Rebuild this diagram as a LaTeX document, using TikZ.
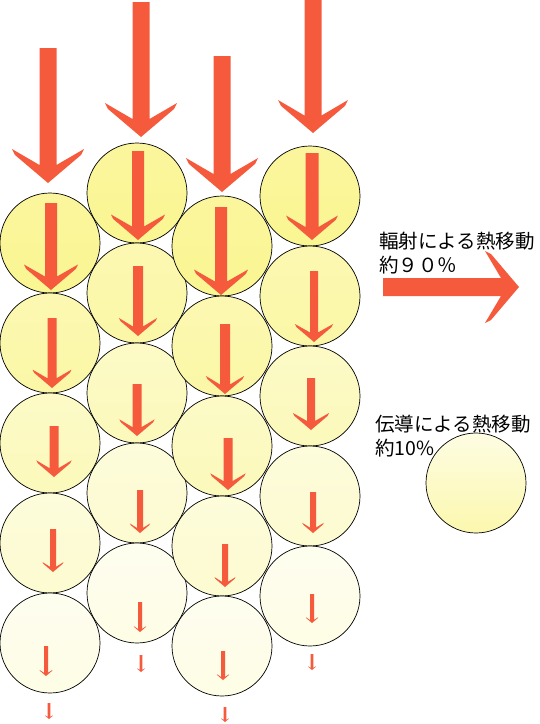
\documentclass[tikz,border=0pt]{standalone}
\usepackage{fontspec}
\newfontfamily\jpfont{Noto Sans CJK JP}
\definecolor{heatred}{RGB}{245,90,60}
\definecolor{ballyellow}{RGB}{250,245,140}
\tikzset{
	ball/.style={circle,draw=black,line width=0.7pt,minimum size=100pt,inner sep=0pt},
	heat/.style={fill=heatred},
	legend/.style={font=\jpfont\fontsize{19.5}{24}\selectfont,align=left,inner sep=0pt,anchor=west}
}
\begin{document}
\begin{tikzpicture}[x=1pt,y=-1pt,line join=round,line cap=round]
	\useasboundingbox (0,0) rectangle (540,724);
	% particles, column by column
	\foreach \c/\x/\y in {1/50/243,2/137/193,3/222/246,4/310/196}
	\foreach \r in {1,...,5}{
		\pgfmathtruncatemacro\hi{95-18*(\r-1)}
		\pgfmathtruncatemacro\lo{85-18*(\r-1)}
		\node[ball,top color=ballyellow!\lo!white,bottom color=ballyellow!\hi!white] (p\c\r) at (\x,{\y+100*(\r-1)}) {};
	}
	% heat flow arrows: x / shaft top / tip / size / half width
	\foreach \x/\ys/\yt/\s/\w in {48/48/183/1/8.5,51/203/290/0.75/6,52/318/388/0.54/4.5,54/426/477/0.49/4.5,53/529/572/0.29/3,46/646/676/0.18/2,49/703/719/0.11/1.3,
		141/2/137/1/8.5,138/151/240/0.75/6,138/266/336/0.53/5,137/384/436/0.49/4.5,140/490/533/0.28/3,140/602/632/0.17/2,141/655/672/0.11/1.3,
		222/56/192/1/8.5,221/207/295/0.75/6,225/324/394/0.53/5,228/438/490/0.49/4.5,225/544/587/0.29/3,223/651/680/0.17/2,225/707/722/0.11/1.3,
		313/0/133/0.97/8.5,312/153/240/0.72/6.5,314/271/342/0.53/4,311/378/430/0.5/4,313/492/533/0.3/3,312/594/623/0.17/2,312/654/670/0.11/1.3}
	\fill[heat] (\x-\w,\ys) -- (\x-\w,\yt-18*\s) -- (\x-36*\s,\yt-34*\s) -- (\x-33*\s,\yt-28*\s) -- (\x,\yt) -- (\x+33*\s,\yt-28*\s) -- (\x+36*\s,\yt-34*\s) -- (\x+\w,\yt-18*\s) -- (\x+\w,\ys) -- cycle;
	% legend
	\fill[heat] (383,278) -- (501,278) -- (485,251) -- (491,254) -- (519,287) -- (491,320) -- (485,323) -- (501,296) -- (383,296) -- cycle;
	\node[ball,top color=ballyellow!25!white,bottom color=ballyellow!70!white] (legendball) at (476,483) {};
	\node[legend] (radiation) at (379,253) {輻射による熱移動\\約９０％};
	\node[legend] (conduction) at (375,436) {伝導による熱移動\\約10\%};
\end{tikzpicture}
\end{document}
